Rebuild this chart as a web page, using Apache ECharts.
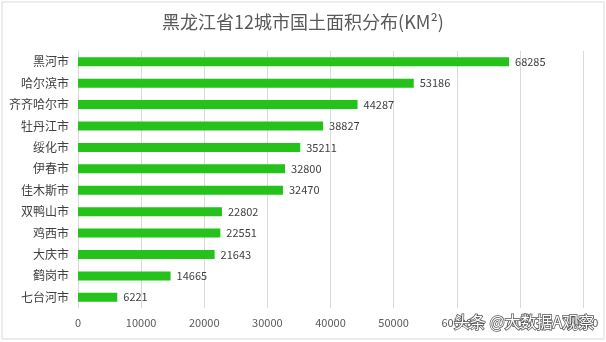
<!DOCTYPE html>
<html><head><meta charset="utf-8">
<script src="https://cdn.jsdelivr.net/npm/echarts@6/dist/echarts.min.js"></script>
<style>html,body{margin:0;padding:0;background:#fff}#c{width:606px;height:342px}</style>
</head><body><div id="c"></div>
<script>
const categories = ['黑河市','哈尔滨市','齐齐哈尔市','牡丹江市','绥化市','伊春市','佳木斯市','双鸭山市','鸡西市','大庆市','鹤岗市','七台河市'];
const areas = [68285,53186,44287,38827,35211,32800,32470,22802,22551,21643,14665,6221];
const xTicks = [0,10000,20000,30000,40000,50000,60000,70000,80000];
const chart = echarts.init(document.getElementById('c'));
const font = '"Noto Sans CJK SC","Microsoft YaHei",sans-serif';
chart.setOption({
  animation:false,
  backgroundColor:'#fff',
  title:{text:'黑龙江省12城市国土面积分布(KM²)',left:'center',top:8,
    textStyle:{fontFamily:font,fontSize:18,fontWeight:'normal',color:'#595959'}},
  grid:{left:78,right:23,top:51,bottom:34},
  xAxis:{type:'value',min:xTicks[0],max:xTicks[xTicks.length-1],interval:10000,
    axisLine:{show:false},axisTick:{show:false},
    axisLabel:{fontFamily:font,fontSize:11,color:'#595959',margin:9,formatter:v=>String(v)},
    splitLine:{lineStyle:{color:'#d9d9d9'}}},
  yAxis:{type:'category',data:categories,inverse:true,
    axisLine:{show:true,lineStyle:{color:'#d9d9d9'}},axisTick:{show:false},
    axisLabel:{fontFamily:font,fontSize:12,color:'#404040',margin:9}},
  series:[{type:'bar',data:areas,barWidth:9,
    itemStyle:{color:'#24C21A'},
    label:{show:true,position:'right',distance:6,fontFamily:font,fontSize:11,color:'#404040'}}],
  graphic:[
    {type:'rect',shape:{x:2,y:2,width:602,height:337},style:{fill:'none',stroke:'#d9d9d9',lineWidth:1},silent:true},
    {type:'text',right:11,bottom:11,z:100,style:{text:'头条 @大数据A观察',font:'16px '+font,fill:'#fff',stroke:'#555',lineWidth:1.5}}
  ]
});
</script></body></html>
